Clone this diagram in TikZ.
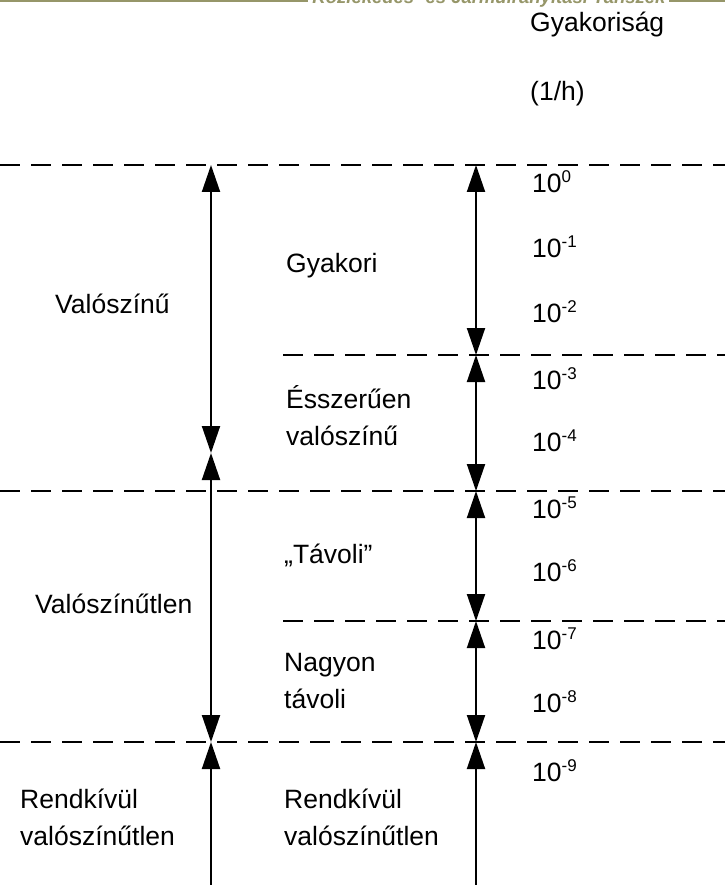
\documentclass[tikz,border=0pt]{standalone}
\usepackage{fontspec}
\setmainfont{Liberation Sans}
\usetikzlibrary{arrows.meta}
\definecolor{hdrolive}{RGB}{150,150,105}
\newcommand\pwr[1]{10\raisebox{10pt}{\fontsize{17}{17}\selectfont #1}}
\begin{document}
\begin{tikzpicture}[x=1pt,y=-1pt,
  >={Triangle[length=27pt,width=18pt]},
  dline/.style={line width=2pt,dash pattern=on 20pt off 11pt},
  rng/.style={line width=2pt,<->},
  upr/.style={line width=2pt,<-},
  lbl/.style={anchor=base west,inner sep=0pt,font=\fontsize{26.5}{37}\selectfont,align=left}]
\useasboundingbox (0,0) rectangle (725,885);
\clip (0,0) rectangle (725,885);
% header (cut off at the top)
\node[anchor=base,inner sep=0pt,text=hdrolive,font=\fontsize{18.5}{18.5}\selectfont\bfseries\itshape] (hdr) at (489,4) {Közlekedés- és Járműirányítási Tanszék};
\draw[hdrolive,line width=2.5pt] (0,1) -- (308,1);
\draw[hdrolive,line width=2.5pt] (669,1) -- (725,1);
% dashed levels
\draw[dline] (0,165) -- (725,165);
\draw[dline] (283,355) -- (725,355);
\draw[dline] (0,491) -- (725,491);
\draw[dline] (283,621) -- (725,621);
\draw[dline] (0,742) -- (725,742);
% arrow end points
\coordinate (L0) at (211,165);
\coordinate (L1) at (211,453);
\coordinate (L2) at (211,742);
\coordinate (Lb) at (211,885);
\coordinate (R0) at (476,165);
\coordinate (R1) at (476,355);
\coordinate (R2) at (476,491);
\coordinate (R3) at (476,621);
\coordinate (R4) at (476,742);
\coordinate (Rb) at (476,885);
\draw[rng] (L0) -- (L1);
\draw[rng] (L1) -- (L2);
\draw[upr] (L2) -- (Lb);
\draw[rng] (R0) -- (R1);
\draw[rng] (R1) -- (R2);
\draw[rng] (R2) -- (R3);
\draw[rng] (R3) -- (R4);
\draw[upr] (R4) -- (Rb);
% header labels
\node[lbl] (freq) at (530,32) {Gyakoriság};
\node[lbl] (unit) at (530,101) {(1/h)};
% exponents
\node[lbl] (e0) at (532,193) {\pwr{0}};
\node[lbl] (e1) at (532,258) {\pwr{-1}};
\node[lbl] (e2) at (532,322) {\pwr{-2}};
\node[lbl] (e3) at (532,389) {\pwr{-3}};
\node[lbl] (e4) at (532,451) {\pwr{-4}};
\node[lbl] (e5) at (532,518) {\pwr{-5}};
\node[lbl] (e6) at (532,581) {\pwr{-6}};
\node[lbl] (e7) at (532,649) {\pwr{-7}};
\node[lbl] (e8) at (532,712) {\pwr{-8}};
\node[lbl] (e9) at (532,781) {\pwr{-9}};
% middle column (base anchor = last line)
\node[lbl] (gy) at (286,272) {Gyakori};
\node[lbl] (es) at (286,445) {Ésszerűen\\valószínű};
\node[lbl] (tav) at (284,563) {„Távoli”};
\node[lbl] (nt) at (284,708) {Nagyon\\távoli};
\node[lbl] (rv2) at (284,845) {Rendkívül\\valószínűtlen};
% left column
\node[lbl] (v1) at (55,313) {Valószínű};
\node[lbl] (v2) at (35,613) {Valószínűtlen};
\node[lbl] (rv1) at (20,845) {Rendkívül\\valószínűtlen};
\end{tikzpicture}
\end{document}
